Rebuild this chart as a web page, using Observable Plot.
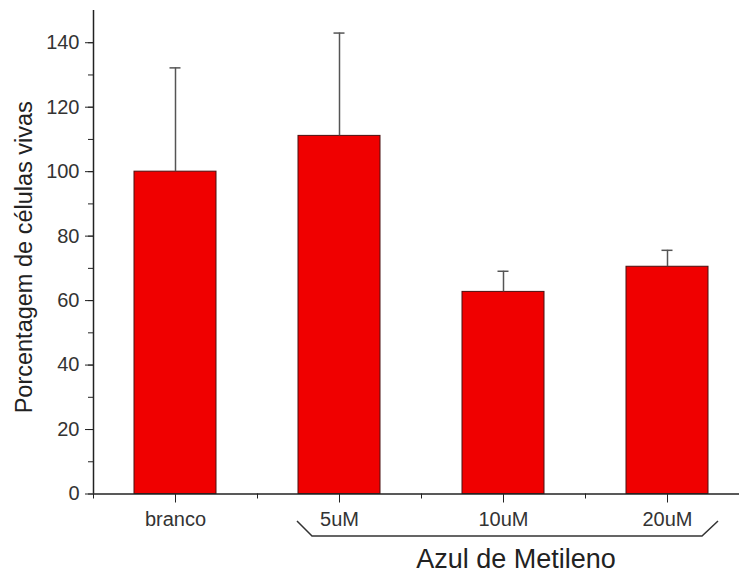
<!DOCTYPE html>
<html>
<head>
<meta charset="utf-8">
<script src="https://cdn.jsdelivr.net/npm/d3@7"></script>
<script src="https://cdn.jsdelivr.net/npm/@observablehq/plot@0.6"></script>
<style>
  html, body { margin: 0; padding: 0; background: #fff; overflow: hidden; }
  #chart svg { overflow: visible; }
</style>
</head>
<body>
<div id="chart"></div>
<script>
// ---- data ----
const categories = ["branco", "5uM", "10uM", "20uM"];
const means = [100, 111.1, 62.7, 70.5];
const errors = [32.2, 31.9, 6.4, 5.1];
const yMajorTicks = [0, 20, 40, 60, 80, 100, 120, 140];
const yMinorTicks = [0, 10, 20, 30, 40, 50, 60, 70, 80, 90, 100, 110, 120, 130, 140];
const yLabel = "Porcentagem de células vivas";
const groupLabel = "Azul de Metileno";
const groupStart = "5uM";
const groupEnd = "20uM";

const data = categories.map((c, i) => ({cat: c, mean: means[i], top: means[i] + errors[i]}));

const font = "'Liberation Sans', Arial, Helvetica, sans-serif";
const axisColor = "#222";
const textColor = "#333";

const plot = Plot.plot({
  width: 739,
  height: 581,
  marginLeft: 93,
  marginRight: -10,
  marginTop: 10,
  marginBottom: 87.5,
  style: {fontFamily: font, fontSize: "20px", color: textColor, background: "#fff"},
  x: {domain: categories, paddingInner: 0.5, paddingOuter: 0.25, axis: null},
  y: {domain: [0, 150], axis: null},
  marks: [
    Plot.barY(data, {x: "cat", y: "mean", fill: "#f00000", stroke: "#4a1010", strokeWidth: 1}),
    Plot.ruleX(data, {x: "cat", y1: "mean", y2: "top", stroke: "#555", strokeWidth: 1.5}),
    Plot.tickY(data, {x: "cat", y: "top", stroke: "#555", strokeWidth: 1.5, insetLeft: 35.5, insetRight: 35.5}),
    // axis lines
    Plot.ruleY([0], {stroke: axisColor, strokeWidth: 1.5}),
    Plot.ruleX([categories[0]], {x: d => d, y1: 0, y2: 150, dx: -82, stroke: axisColor, strokeWidth: 1.5}),
    // y axis
    Plot.axisY({ticks: yMajorTicks, tickSize: 8, tickPadding: 6, fontSize: 20, stroke: axisColor, fill: textColor, label: null}),
    Plot.axisY({ticks: yMinorTicks, tickSize: 5, tickFormat: () => "", stroke: axisColor, label: null}),
    // x axis
    Plot.axisX({tickSize: 9, tickPadding: 9, fontSize: 20, stroke: axisColor, fill: textColor, label: null}),
    Plot.axisX({ticks: categories, dx: -82, tickSize: 5, tickFormat: () => "", stroke: axisColor, label: null}),
    // titles
    Plot.text([yLabel], {text: d => d, frameAnchor: "left", textAnchor: "middle", rotate: -90, dx: -69, dy: 5, fontSize: 23.5, fill: "#222"}),
    Plot.text([{label: groupLabel, cat: categories[2]}], {x: "cat", text: "label", frameAnchor: "bottom", dy: 73.5, dx: 12.5, fontSize: 27, fill: "#222"})
  ]
});

// bracket under the grouped categories, positioned through the plot's scales
const xs = plot.scale("x");
const ys = plot.scale("y");
const y0 = ys.apply(0);
const bw = xs.bandwidth;
const xL = xs.apply(groupStart);
const xR = xs.apply(groupEnd) + bw;
const pts = [
  [xL - 1, y0 + 27.5],
  [xL + 14, y0 + 42.5],
  [xR - 6, y0 + 42.5],
  [xR + 10, y0 + 27.5]
];
d3.select(plot).append("path")
  .attr("d", d3.line()(pts))
  .attr("fill", "none")
  .attr("stroke", "#333")
  .attr("stroke-width", 1.5);

document.getElementById("chart").appendChild(plot);
</script>
</body>
</html>
